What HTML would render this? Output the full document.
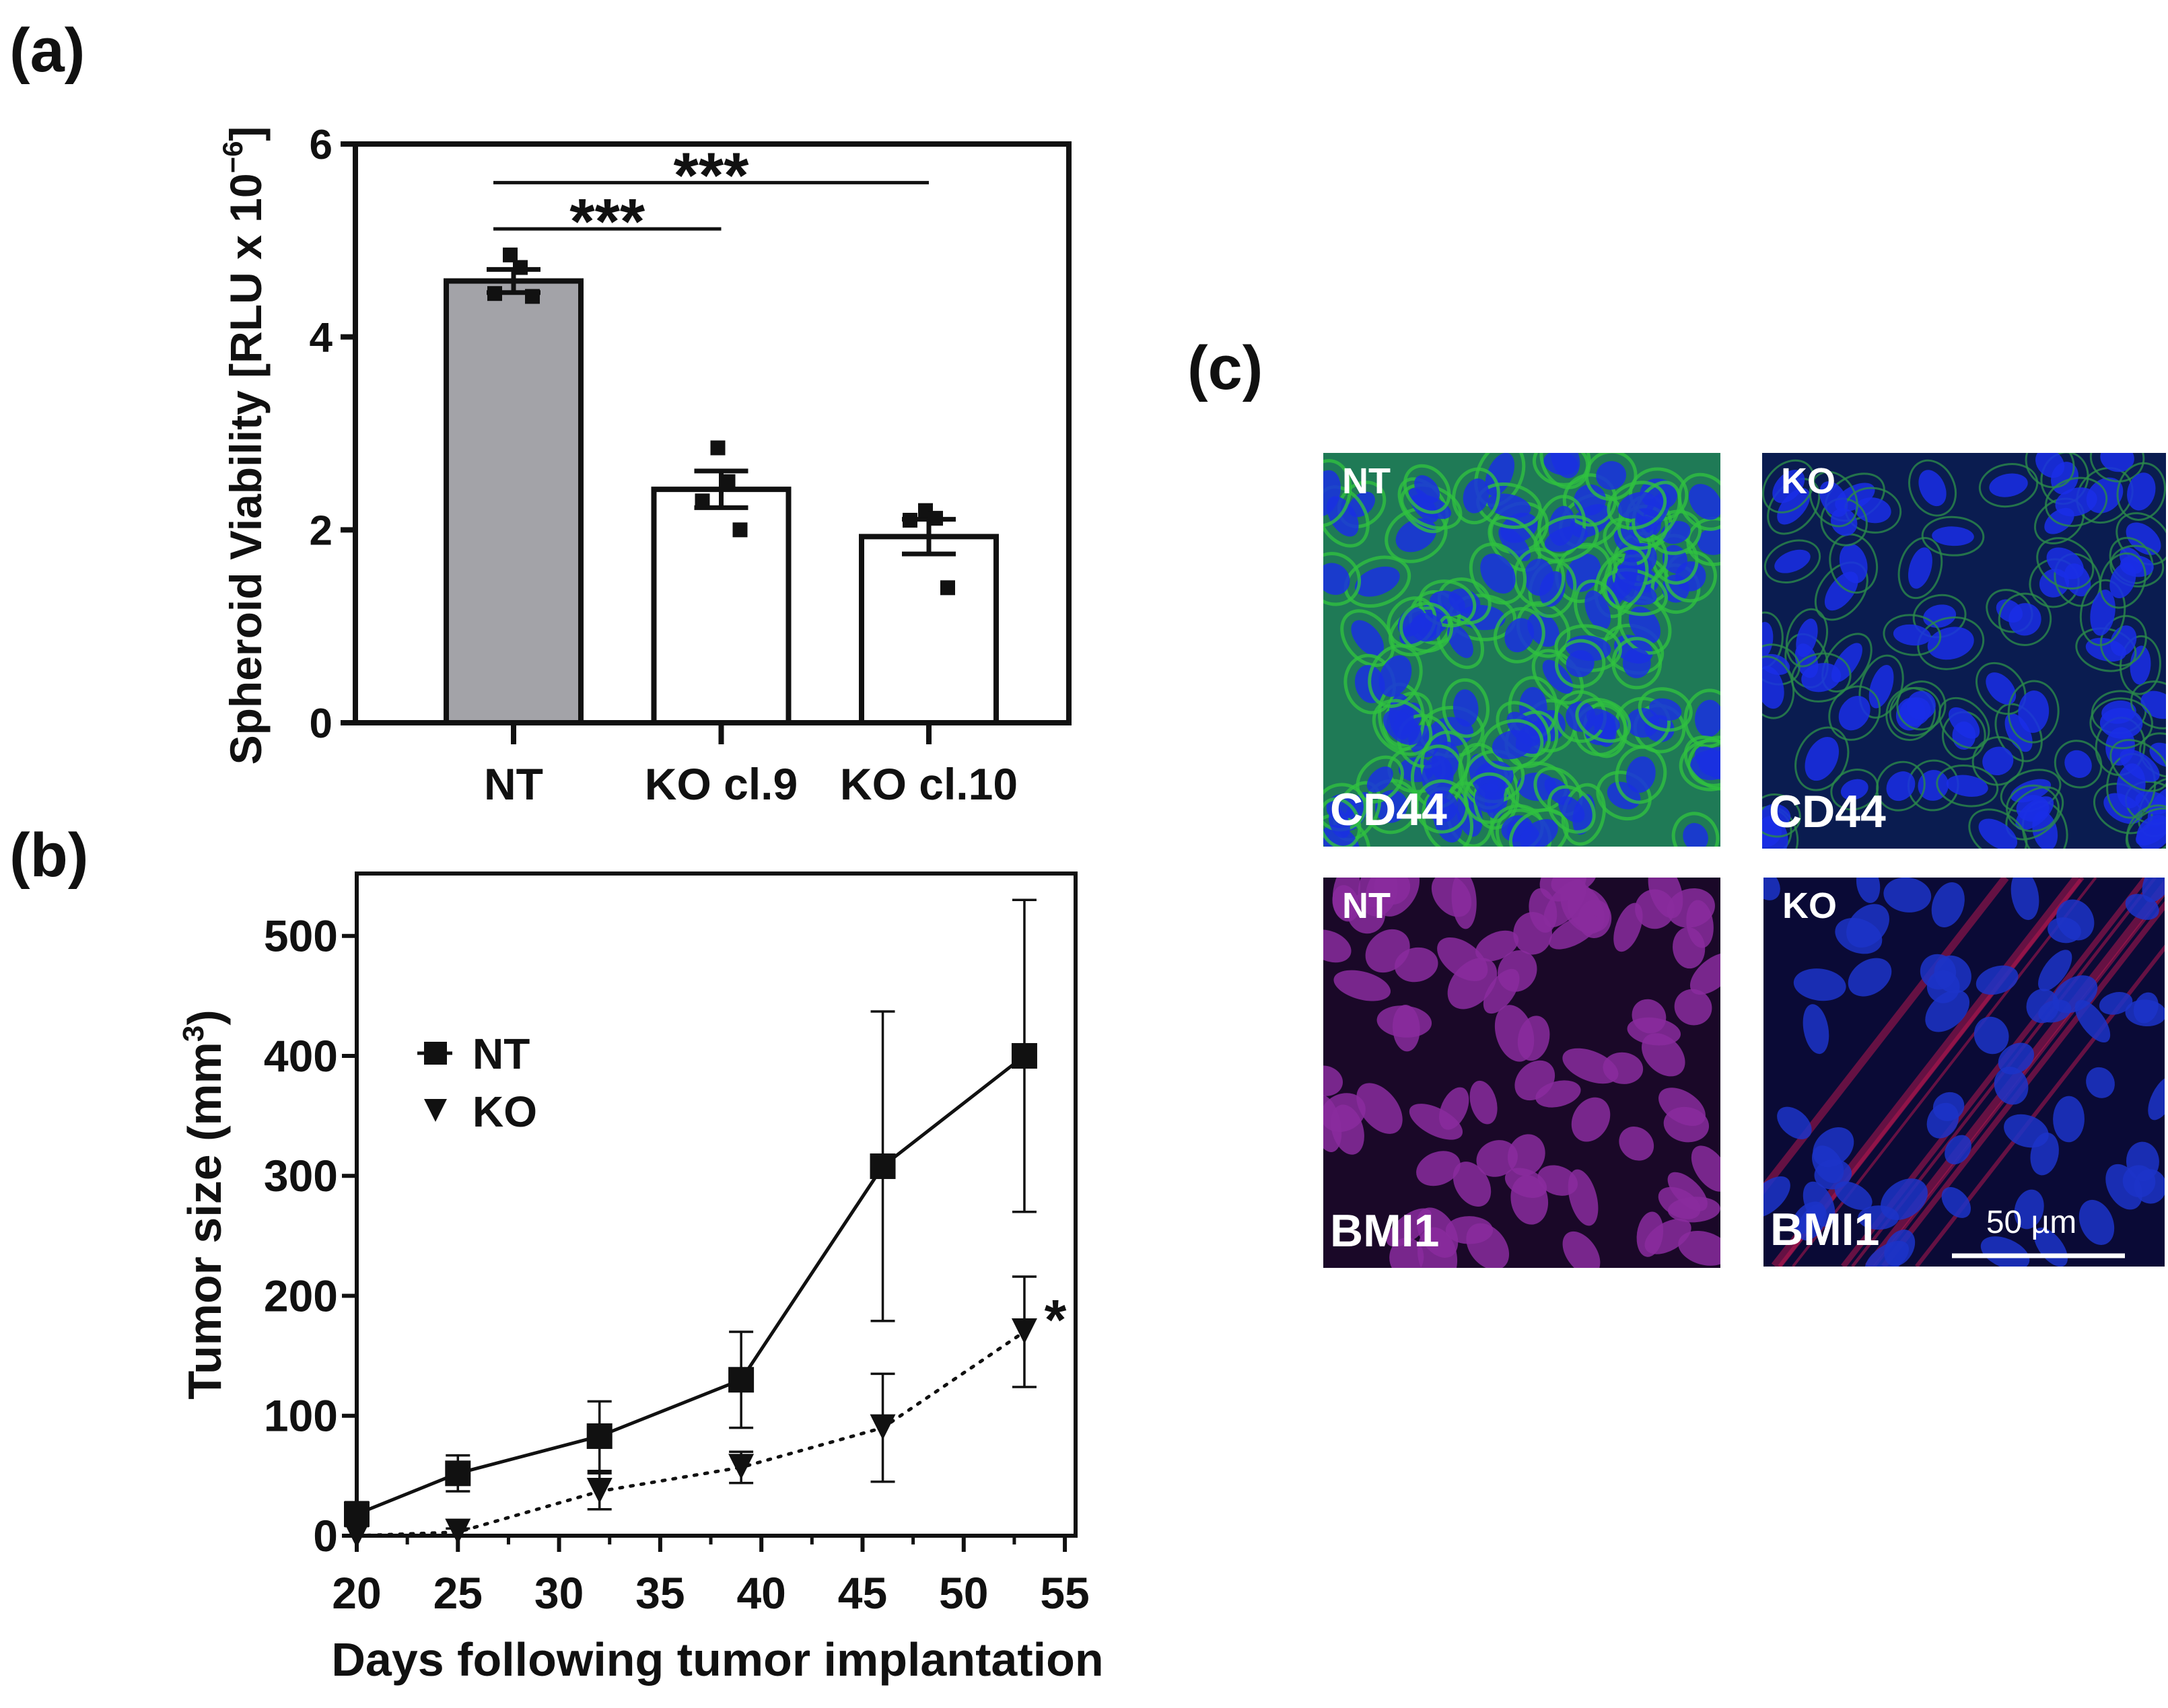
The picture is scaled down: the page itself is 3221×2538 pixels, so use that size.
<!DOCTYPE html>
<html><head><meta charset="utf-8"><style>
html,body{margin:0;padding:0;background:#fff}
svg{display:block}
text{font-family:"Liberation Sans",sans-serif;font-weight:bold;fill:#111}
</style></head><body>
<svg id="fig" width="3221" height="2538" viewBox="0 0 3221 2538" xmlns="http://www.w3.org/2000/svg">
<defs>
<clipPath id="c1"><rect x="1966" y="673" width="590" height="585"/></clipPath>
<clipPath id="c2"><rect x="2618" y="673" width="600" height="588"/></clipPath>
<clipPath id="c3"><rect x="1966" y="1304" width="590" height="580"/></clipPath>
<clipPath id="c4"><rect x="2620" y="1304" width="596" height="578"/></clipPath>
</defs>
<text x="14" y="106" font-size="92">(a)</text>
<text x="14" y="1302" font-size="92">(b)</text>
<text x="1764" y="578" font-size="92">(c)</text>
<g id="pa"></g>
<g id="pb"></g>
<g id="pc"></g>
</svg>
<script>
// ---- Panel (a) data ----
const aCategories = ["NT", "KO cl.9", "KO cl.10"];
const aMeans = [4.58, 2.42, 1.93];
const aSem = [0.12, 0.19, 0.18];
const aPoints = [[4.85, 4.72, 4.45, 4.42], [2.85, 2.5, 2.3, 2.0], [2.2, 2.12, 2.1, 1.4]];
const aTicks = [0, 2, 4, 6];
const aSig = [{from:0,to:2,y:5.6,label:"***"},{from:0,to:1,y:5.12,label:"***"}];
// ---- Panel (b) data ----
const bDays = [20, 25, 32, 39, 46, 53];
const bNT = [18, 52, 83, 130, 308, 400];
const bNTerr = [10, 15, 29, 40, 129, 130];
const bKO = [0, 3, 37, 57, 90, 170];
const bKOerr = [0, 3, 15, 13, 45, 46];
const bXTicks = [20, 25, 30, 35, 40, 45, 50, 55];
const bYTicks = [0, 100, 200, 300, 400, 500];

const NS = "http://www.w3.org/2000/svg";
function mk(parent, tag, attrs, txt){
  const e = document.createElementNS(NS, tag);
  for (const k in attrs) e.setAttribute(k, attrs[k]);
  if (txt !== undefined) e.textContent = txt;
  parent.appendChild(e); return e;
}

// ===== Panel a =====
(function(){
  const g = document.getElementById('pa');
  const L=528, R=1588, T=214, B=1074, ymax=6;
  const y = v => B - v/ymax*(B-T);
  const xc = i => 763 + i*308.5;
  const bw = 200;
  let e;
  aTicks.forEach(t=>{
    e = mk(g,'line',{x1:L-22,x2:L,y1:y(t),y2:y(t),stroke:'#111','stroke-width':8});
    
    
    e = mk(g,'text',{x:L-34,y:y(t)+22,'font-size':62,'text-anchor':'end'},String(t));
    
    
  });
  aCategories.forEach((c,i)=>{
    e = mk(g,'rect',{x:xc(i)-bw/2,y:y(aMeans[i]),width:bw,height:B-y(aMeans[i]),fill:i===0?'#a3a3a8':'#fff',stroke:'#111','stroke-width':8});
    
    
    const hi=y(aMeans[i]+aSem[i]), lo=y(aMeans[i]-aSem[i]);
    e = mk(g,'path',{d:`M${xc(i)} ${hi}V${lo}M${xc(i)-40} ${hi}H${xc(i)+40}M${xc(i)-40} ${lo}H${xc(i)+40}`,stroke:'#111','stroke-width':7,fill:'none'});
    
    
    aPoints[i].forEach((p,j)=>{
      const off = [-5,10,-28,28][j];
      e = mk(g,'rect',{x:xc(i)+off-11,y:y(p)-11,width:22,height:22,fill:'#111'});
      
      
    });
    e = mk(g,'line',{x1:xc(i),x2:xc(i),y1:B,y2:B+32,stroke:'#111','stroke-width':8});
    
    
    e = mk(g,'text',{x:xc(i),y:1188,'font-size':66,'text-anchor':'middle'},c);
    
    
  });
  aSig.forEach(s=>{
    e = mk(g,'line',{x1:xc(s.from)-30,x2:xc(s.to),y1:y(s.y),y2:y(s.y),stroke:'#111','stroke-width':5});
    
    
    e = mk(g,'text',{x:(xc(s.from)-30+xc(s.to))/2,y:y(s.y)+22,'font-size':96,'text-anchor':'middle'},s.label);
    
    
  });
  e = mk(g,'rect',{x:L,y:T,width:R-L,height:B-T,fill:'none',stroke:'#111','stroke-width':8});
  
  
  const yt = mk(g,'text',{transform:'translate(388,662) rotate(-90)','font-size':66,'text-anchor':'middle'});
  
  
  yt.appendChild(document.createTextNode('Spheroid Viability [RLU x 10'));
  mk(yt,'tspan',{'font-size':42,dy:-28},'−6');
  mk(yt,'tspan',{dy:28},']');
})();

// ===== Panel b =====
(function(){
  const g = document.getElementById('pb');
  const L=530, R=1598, T=1298, B=2282, xmin=20, xmax=55.53, ymax=552;
  const x = v => L + (v-xmin)/(xmax-xmin)*(R-L);
  const y = v => B - v/ymax*(B-T);
  let e;
  bYTicks.forEach(t=>{
    e = mk(g,'line',{x1:L-22,x2:L,y1:y(t),y2:y(t),stroke:'#111','stroke-width':6});
    
    
    e = mk(g,'text',{x:L-28,y:y(t)+23,'font-size':66,'text-anchor':'end'},String(t));
    
    
  });
  bXTicks.forEach((t,i)=>{
    e = mk(g,'line',{x1:x(t),x2:x(t),y1:B,y2:B+24,stroke:'#111','stroke-width':6});
    
    
    if(i<bXTicks.length-1){
      e = mk(g,'line',{x1:x(t+2.5),x2:x(t+2.5),y1:B,y2:B+13,stroke:'#111','stroke-width':5});
      
      
    }
    e = mk(g,'text',{x:x(t),y:2390,'font-size':66,'text-anchor':'middle'},String(t));
    
    
  });
  function series(vals, errs, dash, name, tri){
    e = mk(g,'polyline',{points:bDays.map((d,i)=>x(d)+','+y(vals[i])).join(' '),fill:'none',stroke:'#111','stroke-width':5,'stroke-dasharray':dash?'4 12':'none','stroke-linecap':'round'});
    
    
    bDays.forEach((d,i)=>{
      const hi=y(vals[i]+errs[i]), lo=y(vals[i]-errs[i]), cx=x(d);
      if(errs[i]>0){
        e = mk(g,'path',{d:`M${cx} ${hi}V${lo}M${cx-18} ${hi}H${cx+18}M${cx-18} ${lo}H${cx+18}`,stroke:'#111','stroke-width':3.5,fill:'none'});
        
        
      }
      const cy=y(vals[i]);
      if(tri) e = mk(g,'path',{d:`M${cx-19} ${cy-20}H${cx+19}L${cx} ${cy+18}Z`,fill:'#111'});
      else e = mk(g,'rect',{x:cx-19,y:cy-19,width:38,height:38,fill:'#111'});
      
      
    });
  }
  series(bNT,bNTerr,false,'nt',false);
  series(bKO,bKOerr,true,'ko',true);
  e = mk(g,'rect',{x:L,y:T,width:R-L,height:B-T,fill:'none',stroke:'#111','stroke-width':6});
  
  
  e = mk(g,'text',{x:1568,y:1990,'font-size':84,'text-anchor':'middle'},'*');
  
  
  // legend
  e = mk(g,'path',{d:'M620 1565H672',stroke:'#111','stroke-width':5});
  
  
  e = mk(g,'rect',{x:630,y:1548,width:34,height:34,fill:'#111'});
  
  
  e = mk(g,'text',{x:702,y:1588,'font-size':64},'NT');
  
  
  e = mk(g,'path',{d:'M630 1633H664L647 1667Z',fill:'#111'});
  
  
  e = mk(g,'text',{x:702,y:1674,'font-size':64},'KO');
  
  
  e = mk(g,'text',{x:1066,y:2490,'font-size':70,'text-anchor':'middle'},'Days following tumor implantation');
  
  
  const yt = mk(g,'text',{transform:'translate(328,1790) rotate(-90)','font-size':70,'text-anchor':'middle'});
  
  
  yt.appendChild(document.createTextNode('Tumor size (mm'));
  mk(yt,'tspan',{'font-size':44,dy:-26},'3');
  mk(yt,'tspan',{dy:26},')');
})();

// ===== Panel c (micrograph textures) =====
(function(){
  const g = document.getElementById('pc');
  let s = 12345;
  const rnd = () => { s = (s*1103515245 + 12345) % 2147483648; return s/2147483648; };
  const panels = [
    {x:1966,y:673,w:590,h:585,clip:'c1',bg:'#1f7a56',nuc:'#1a30e0',mem:'#30c040',memw:5,n:110,r:0.8,top:'NT',bot:'CD44',name:'cd44-nt'},
    {x:2618,y:673,w:600,h:588,clip:'c2',bg:'#0a1c50',nuc:'#1a2ee8',mem:'#2a8a4a',memw:3,n:80,r:0.8,top:'KO',bot:'CD44',name:'cd44-ko'},
    {x:1966,y:1304,w:590,h:580,clip:'c3',bg:'#1a0828',nuc:'#8a2c9e',mem:'#c0207a',memw:0,n:80,r:1.0,top:'NT',bot:'BMI1',name:'bmi1-nt'},
    {x:2620,y:1304,w:596,h:578,clip:'c4',bg:'#0a0a36',nuc:'#1c34c8',mem:'#e0205a',memw:0,n:60,r:0.9,top:'KO',bot:'BMI1',name:'bmi1-ko'}
  ];
  panels.forEach(p=>{
    const pg = mk(g,'g',{'clip-path':`url(#${p.clip})`});
    
    
    mk(pg,'rect',{x:p.x,y:p.y,width:p.w,height:p.h,fill:p.bg});
    if(p.name==='bmi1-ko'){
      for(let k=0;k<10;k++){
        const x0=p.x+120+rnd()*p.w*0.6, y0=p.y+p.h;
        mk(pg,'line',{x1:x0-250,y1:y0,x2:x0+200,y2:p.y,stroke:'#c01850','stroke-width':4+rnd()*12,opacity:0.5});
      }
    }
    for(let k=0;k<p.n;k++){
      const cx=p.x+rnd()*p.w, cy=p.y+rnd()*p.h, rx=(26+rnd()*18)*p.r, ry=(18+rnd()*12)*p.r;
      const a=rnd()*180;
      if(p.memw) mk(pg,'ellipse',{cx,cy,rx:rx+14,ry:ry+14,transform:`rotate(${a} ${cx} ${cy})`,fill:'none',stroke:p.mem,'stroke-width':p.memw,opacity:0.8});
      mk(pg,'ellipse',{cx,cy,rx,ry,transform:`rotate(${a} ${cx} ${cy})`,fill:p.nuc,opacity:0.85});
    }
    let e = mk(g,'text',{x:p.x+28,y:p.y+60,'font-size':54,style:'fill:#fff'},p.top);
    
    
    e = mk(g,'text',{x:p.x+10,y:p.y+p.h-32,'font-size':68,style:'fill:#fff'},p.bot);
    
    
  });
  let e = mk(g,'line',{x1:2900,x2:3157,y1:1866,y2:1866,stroke:'#fff','stroke-width':7});
  
  
  e = mk(g,'text',{x:3018,y:1832,'font-size':48,'text-anchor':'middle',style:'fill:#fff;font-weight:normal'},'50 µm');
  
  
})();
</script>
</body></html>
